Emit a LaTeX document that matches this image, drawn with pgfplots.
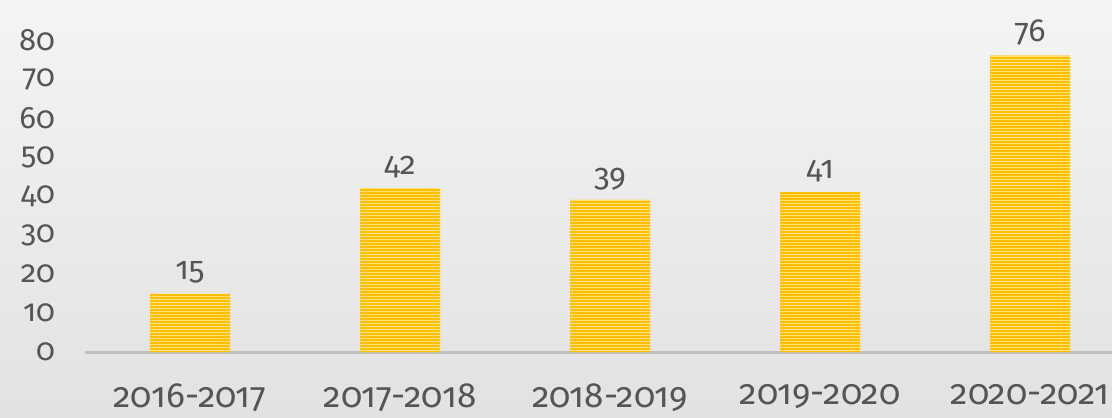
\documentclass[border=0pt]{standalone}
\usepackage{pgfplots}
\pgfplotsset{compat=1.18}
\usetikzlibrary{patterns}
\usepackage{fontspec}
\setmainfont{Fira Sans}[Numbers=OldStyle]
\definecolor{txt}{HTML}{555555}
\definecolor{barA}{HTML}{FFBE00}
\definecolor{barB}{HTML}{FFE27A}
\definecolor{axln}{HTML}{BFBFBF}
\definecolor{bgtop}{HTML}{F4F4F4}
\definecolor{bgbot}{HTML}{E2E2E2}
\pgfdeclarepatternformonly{hstripes}{\pgfpoint{-1pt}{0pt}}{\pgfpoint{101pt}{1.5pt}}{\pgfpoint{100pt}{1.5pt}}{%
  \pgfsetlinewidth{1.0pt}%
  \pgfpathmoveto{\pgfpoint{-1pt}{0.75pt}}%
  \pgfpathlineto{\pgfpoint{101pt}{0.75pt}}%
  \pgfusepath{stroke}}
\begin{document}
\begin{tikzpicture}
\shade[use as bounding box, top color=bgtop, bottom color=bgbot] (0,0) rectangle (556pt,208.5pt);
\begin{axis}[
  at={(42.5pt,32.5pt)}, anchor=south west,
  scale only axis, width=513.5pt, height=156pt,
  xmin=-0.5, xmax=4.39, ymin=0, ymax=80,
  ytick={0,10,...,80},
  xtick={0,1,2,3,4},
  xticklabels={2016-2017,2017-2018,2018-2019,2019-2020,2020-2021},
  axis x line*=bottom, axis y line*=left,
  y axis line style={draw=none},
  x axis line style={draw=axln, line width=1.5pt},
  major tick length=0pt,
  clip=false,
  /pgf/number format/assume math mode=true,
  yticklabel style={font=\fontsize{15.5}{18}\selectfont, text=txt, xshift=-11.5pt},
  xticklabel style={font=\fontsize{17.5}{20}\selectfont, text=txt, yshift=-12.5pt},
  nodes near coords,
  nodes near coords style={font=\fontsize{16}{19}\selectfont, text=txt, yshift=1.5pt},
]
\addplot[ybar, bar width=40pt, fill=barB, draw=none,
  postaction={pattern=hstripes, pattern color=barA}]
  coordinates {(0,15) (1,42) (2,39) (3,41) (4,76)};
\end{axis}
\end{tikzpicture}
\end{document}
